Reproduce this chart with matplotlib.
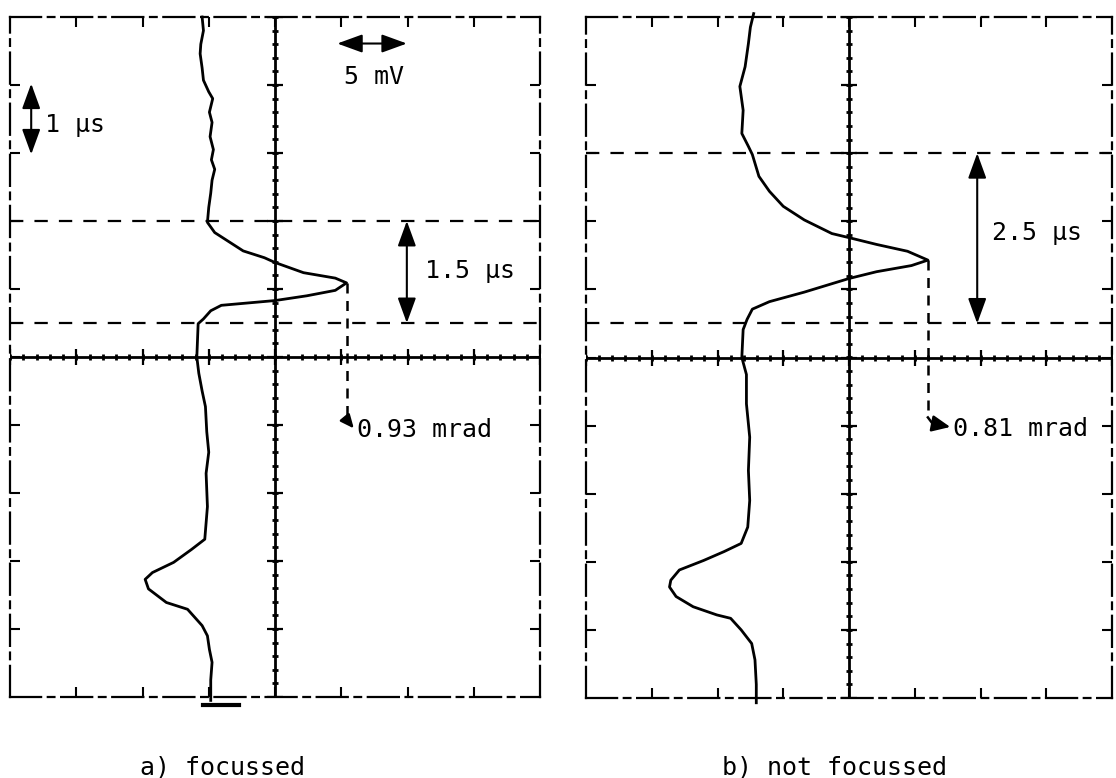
import numpy as np
import matplotlib.pyplot as plt

plt.rcParams['font.family'] = ['DejaVu Sans Mono']

# scope traces in screen divisions (x: 5 mV/div, y: 1 us/div, 0 = graticule centre)
focus_x = [-1.10, -1.08, -1.12, -1.13, -1.10, -1.08, -1.00, -0.94, -0.99, -0.95,
           -0.98, -0.93, -0.96, -0.91, -0.95, -0.97, -1.00, -1.02, -0.91, -0.48,
           -0.16, 0.00, 0.43, 0.91, 1.08, 0.91, 0.48, 0.00, -0.81, -0.97,
           -1.08, -1.16, -1.18, -1.15, -1.10, -1.05, -1.03, -1.00, -1.04, -1.02,
           -1.06, -1.26, -1.53, -1.85, -1.96, -1.91, -1.64, -1.32, -1.10, -1.02,
           -0.99, -0.95, -0.97, -0.97]
focus_y = [5.00, 4.80, 4.60, 4.46, 4.25, 4.07, 3.90, 3.80, 3.60, 3.45,
           3.24, 3.05, 2.90, 2.76, 2.60, 2.41, 2.20, 1.98, 1.83, 1.56,
           1.46, 1.39, 1.24, 1.16, 1.09, 0.98, 0.90, 0.83, 0.76, 0.68,
           0.56, 0.49, 0.00, -0.24, -0.50, -0.73, -1.10, -1.40, -1.71, -2.20,
           -2.68, -2.83, -3.02, -3.17, -3.27, -3.41, -3.61, -3.71, -3.95, -4.10,
           -4.30, -4.49, -4.75, -5.05]

defocus_x = [-1.45, -1.50, -1.53, -1.58, -1.66, -1.61, -1.63, -1.53, -1.47, -1.37,
             -1.21, -1.00, -0.68, -0.26, 0.00, 0.42, 0.89, 1.20, 0.95, 0.42,
             0.00, -0.68, -1.21, -1.47, -1.55, -1.61, -1.63, -1.56, -1.56, -1.51,
             -1.53, -1.51, -1.54, -1.64, -1.90, -2.21, -2.58, -2.71, -2.73, -2.63,
             -2.37, -2.01, -1.80, -1.64, -1.48, -1.43, -1.41, -1.41]
defocus_y = [5.05, 4.85, 4.61, 4.27, 3.98, 3.63, 3.29, 3.10, 2.98, 2.66,
             2.44, 2.22, 2.02, 1.82, 1.76, 1.66, 1.56, 1.43, 1.35, 1.26,
             1.16, 0.96, 0.82, 0.71, 0.56, 0.41, 0.00, -0.25, -0.68, -1.17,
             -1.66, -2.10, -2.49, -2.73, -2.85, -2.98, -3.12, -3.27, -3.37, -3.51,
             -3.66, -3.78, -3.83, -4.00, -4.20, -4.44, -4.80, -5.07]

focus_gate = [2.0, 0.5]      # pulse width markers, 1.5 us apart
defocus_gate = [3.0, 0.5]    # 2.5 us apart
focus_peak = (1.08, 1.09)
defocus_peak = (1.20, 1.43)
focus_label = '0.93 mrad'
defocus_label = '0.81 mrad'
captions = ['a) focussed', 'b) not focussed']

W, H = 1116, 778
fig = plt.figure(figsize=(W / 100, H / 100), dpi=100)
ax_a = fig.add_axes([10 / W, 81 / H, 530 / W, 680 / H])
ax_b = fig.add_axes([586 / W, 80 / H, 526 / W, 681 / H])

FS = 18
arrow2 = dict(arrowstyle='<|-|>,head_length=1.1,head_width=0.4', color='k',
              lw=1.5, mutation_scale=14, shrinkA=0, shrinkB=0)
arrow1 = dict(arrowstyle='-|>,head_length=1.0,head_width=0.45', color='k',
              lw=1.8, shrinkA=0, shrinkB=0)


def screen(ax):
    ax.set_xlim(-4, 4)
    ax.set_ylim(-5, 5)
    ax.set_xticks(range(-3, 4))
    ax.set_yticks(range(-4, 5))
    ax.tick_params(direction='in', length=7, width=1.5, top=True, right=True,
                   labelbottom=False, labelleft=False)
    for s in ax.spines.values():
        s.set_linestyle((0, (14, 3, 3, 3)))
        s.set_linewidth(1.6)
    # centre graticule lines with their sub-division marks
    ax.axhline(0, color='k', lw=2)
    ax.axvline(0, color='k', lw=2)
    fx = np.arange(-4, 4.01, 0.2)
    fy = np.arange(-5, 5.01, 0.2)
    ax.plot(fx, np.zeros_like(fx), '|', color='k', ms=5, mew=2)
    ax.plot(np.zeros_like(fy), fy, '_', color='k', ms=5, mew=2)
    ax.plot(range(-4, 5), [0] * 9, '|', color='k', ms=12, mew=1.6)
    ax.plot([0] * 11, range(-5, 6), '_', color='k', ms=12, mew=1.6)


for ax in (ax_a, ax_b):
    screen(ax)

# a) focussed
ax_a.plot(focus_x, focus_y, color='k', lw=2, clip_on=False)
ax_a.plot([-1.08, -0.54], [-5.12, -5.12], color='k', lw=3, clip_on=False)
for g in focus_gate:
    ax_a.axhline(g, color='k', lw=1.6, ls=(0, (6, 5)))
ax_a.annotate('', xy=(1.99, focus_gate[0]), xytext=(1.99, focus_gate[1]), arrowprops=arrow2)
ax_a.text(2.26, 1.27, '1.5 µs', fontsize=FS, va='center', ha='left')
ax_a.annotate('', xy=(-3.68, 4.02), xytext=(-3.68, 2.98), arrowprops=arrow2)
ax_a.text(-3.47, 3.41, '1 µs', fontsize=FS, va='center', ha='left')
ax_a.annotate('', xy=(0.94, 4.61), xytext=(1.99, 4.61), arrowprops=arrow2)
ax_a.text(1.5, 4.12, '5 mV', fontsize=FS, va='center', ha='center')
ax_a.plot([focus_peak[0]] * 2, [focus_peak[1], -0.92], color='k', lw=1.8, ls=(0, (4, 3)))
ax_a.annotate('', xy=(1.19, -1.05), xytext=(focus_peak[0], -0.92),
              arrowprops=dict(arrow1, mutation_scale=8))
ax_a.text(1.24, -1.07, focus_label, fontsize=FS, va='center', ha='left')

# b) not focussed
ax_b.plot(defocus_x, defocus_y, color='k', lw=2, clip_on=False)
for g in defocus_gate:
    ax_b.axhline(g, color='k', lw=1.6, ls=(0, (6, 5)))
ax_b.annotate('', xy=(1.95, defocus_gate[0]), xytext=(1.95, defocus_gate[1]), arrowprops=arrow2)
ax_b.text(2.18, 1.83, '2.5 µs', fontsize=FS, va='center', ha='left')
ax_b.plot([defocus_peak[0]] * 2, [defocus_peak[1], -0.88], color='k', lw=1.8, ls=(0, (4, 3)))
ax_b.plot([defocus_peak[0], 1.27], [-0.88, -0.97], color='k', lw=1.8)
ax_b.annotate('', xy=(1.54, -1.02), xytext=(1.27, -0.97),
              arrowprops=dict(arrow1, mutation_scale=11))
ax_b.text(1.58, -1.05, defocus_label, fontsize=FS, va='center', ha='left')

fig.text(223 / W, 1 - 767 / H, captions[0], fontsize=FS, ha='center', va='center')
fig.text(834 / W, 1 - 767 / H, captions[1], fontsize=FS, ha='center', va='center')

fig.savefig('out.png', dpi=100, facecolor='white')
